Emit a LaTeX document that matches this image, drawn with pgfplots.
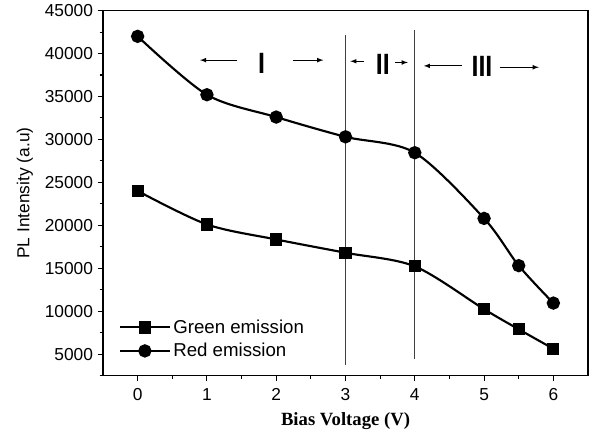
\documentclass[border=0pt]{standalone}
\usepackage{fontspec}
\setmainfont{Liberation Sans}
\newfontfamily\serifbold{Liberation Serif}
\usepackage{pgfplots}
\pgfplotsset{compat=1.18}
\begin{document}
\begin{tikzpicture}
\begin{axis}[
  scale only axis,
  width=363.75pt, height=273.75pt,
  xmin=-0.5, xmax=6.5,
  ymin=2500, ymax=45000,
  xtick={0,1,2,3,4,5,6},
  minor xtick={0.5,1.5,2.5,3.5,4.5,5.5},
  ytick={5000,10000,...,45000},
  minor ytick={2500,7500,...,42500},
  tick align=outside,
  xtick pos=bottom, ytick pos=left,
  major tick length=4pt, minor tick length=2.5pt,
  every tick/.style={black, line width=0.8pt},
  axis line style={line width=0.9pt},
  scaled y ticks=false,
  /pgf/number format/assume math mode=true,
  yticklabel style={/pgf/number format/.cd, fixed, 1000 sep={}},
  ticklabel style={font=\fontsize{13}{15}\selectfont},
  xticklabel style={yshift=-2pt},
  ylabel={PL Intensity (a.u)},
  ylabel style={font=\fontsize{13}{15}\selectfont, yshift=2pt},
  xlabel={\serifbold\bfseries Bias Voltage (V)},
  xlabel style={font=\fontsize{14}{16}\selectfont, yshift=-2pt},
  clip=false,
  legend style={draw=none, fill=none, at={(rel axis cs:0.03,0.165)}, anchor=north west,
    font=\fontsize{14}{15}\selectfont, row sep=2pt, inner sep=1pt},
  legend cell align=left,
  legend image code/.code={
    \draw[mark repeat=2, mark phase=2] plot coordinates {(0cm,0cm) (0.65cm,0cm) (1.3cm,0cm)};
  },
]
\addplot[black, line width=1.6pt, smooth, tension=0.5, mark=square*, mark size=3.8pt,
  mark options={solid}] coordinates {
  (0,24000) (1,20100) (2,18350) (3,16800) (4,15220) (5,10230) (5.5,7890) (6,5620)
};
\addlegendentry{Green emission}
\addplot[black, line width=1.6pt, smooth, tension=0.5, mark=*, mark size=4.2pt,
  mark options={solid}] coordinates {
  (0,42000) (1,35200) (2,32600) (3,30300) (4,28450) (5,20800) (5.5,15300) (6,10940)
};
\addlegendentry{Red emission}
% region boundaries
\draw[black!75, line width=0.6pt] (axis cs:3,42150) -- (axis cs:3,3700);
\draw[black!75, line width=0.6pt] (axis cs:4,42740) -- (axis cs:4,4400);
% region labels and arrows
\node[font=\fontsize{22}{24}\selectfont\bfseries, xscale=0.85] at (axis cs:1.79,38900) {I};
\draw[-latex, line width=0.6pt] (axis cs:1.44,39230) -- (axis cs:0.90,39230);
\draw[-latex, line width=0.6pt] (axis cs:2.24,39230) -- (axis cs:2.68,39230);
\node[font=\fontsize{22}{24}\selectfont\bfseries, xscale=0.85] at (axis cs:3.54,38700) {II};
\draw[-latex, line width=0.6pt] (axis cs:3.27,39100) -- (axis cs:3.07,39100);
\draw[-latex, line width=0.6pt] (axis cs:3.72,38960) -- (axis cs:3.90,38960);
\node[font=\fontsize{22}{24}\selectfont\bfseries, xscale=0.85] at (axis cs:4.97,38500) {III};
\draw[-latex, line width=0.6pt] (axis cs:4.68,38560) -- (axis cs:4.13,38560);
\draw[-latex, line width=0.6pt] (axis cs:5.23,38400) -- (axis cs:5.79,38400);
% page extent
\path (rel axis cs:-0.2124,-0.1616) rectangle (rel axis cs:1.0165,1.0274);
\end{axis}
\end{tikzpicture}
\end{document}
